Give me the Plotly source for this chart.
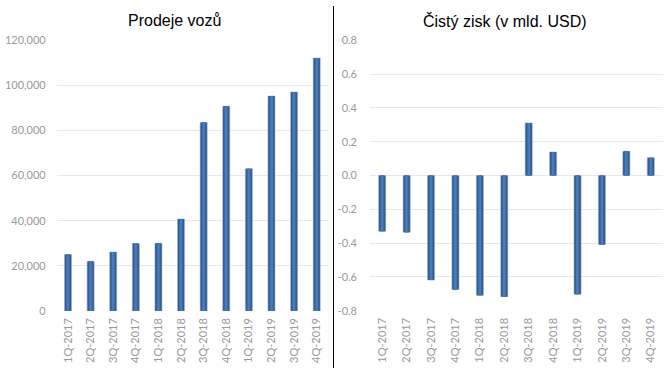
import plotly.graph_objects as go

quarters = ["1Q-2017", "2Q-2017", "3Q-2017", "4Q-2017", "1Q-2018", "2Q-2018",
            "3Q-2018", "4Q-2018", "1Q-2019", "2Q-2019", "3Q-2019", "4Q-2019"]
deliveries = [25000, 22000, 26100, 29900, 30000, 40700, 83500, 90700, 63000, 95200, 97000, 112000]
net_income = [-0.330, -0.336, -0.619, -0.675, -0.709, -0.717, 0.311, 0.139, -0.702, -0.408, 0.143, 0.105]

left_ticks = [0, 20000, 40000, 60000, 80000, 100000, 120000]
left_ticktext = ["0", "20,000", "40,000", "60,000", "80,000", "100,000", "120,000"]
right_ticks = [-0.8, -0.6, -0.4, -0.2, 0.0, 0.2, 0.4, 0.6, 0.8]
right_ticktext = ["-0.8", "-0.6", "-0.4", "-0.2", "0.0", "0.2", "0.4", "0.6", "0.8"]

title_left = "Prodeje vozů"
title_right = "Čistý zisk (v mld. USD)"

W, H = 670, 376
fig = go.Figure()

layers = [(1.0, "#2d5285"), (0.72, "#35619a"), (0.45, "#3f71ad"), (0.2, "#487bb8")]

for i, (frac, col) in enumerate(layers):
    line = dict(width=0.6, color="#9fb4cf") if i == 0 else dict(width=0)
    fig.add_trace(go.Bar(x=quarters, y=deliveries, width=0.31 * frac, marker=dict(color=col, line=line),
                         xaxis="x", yaxis="y", showlegend=False, hoverinfo="skip"))
for i, (frac, col) in enumerate(layers):
    line = dict(width=0.6, color="#9fb4cf") if i == 0 else dict(width=0)
    fig.add_trace(go.Bar(x=quarters, y=net_income, width=0.29 * frac, marker=dict(color=col, line=line),
                         xaxis="x2", yaxis="y2", showlegend=False, hoverinfo="skip"))

tick_font = dict(family="Lato, Open Sans, sans-serif", size=11, color="#9a9a9a")

def px_x(p):
    return p / W

def px_y(p):
    return 1 - p / H

fig.update_layout(
    width=W, height=H,
    margin=dict(l=0, r=0, t=0, b=0, autoexpand=False),
    paper_bgcolor="white", plot_bgcolor="white",
    barmode="overlay",
    xaxis=dict(domain=[px_x(56.7), px_x(328)], anchor="y", tickangle=-90, tickfont=tick_font,
               showgrid=False, showline=False, ticks="", ticklabelstandoff=4, fixedrange=True,
               automargin=False),
    yaxis=dict(domain=[px_y(311), px_y(40)], anchor="x", range=[0, 120000], tickvals=left_ticks,
               ticktext=left_ticktext, tickfont=tick_font, gridcolor="#e8e8e8", gridwidth=1,
               zeroline=False, showline=False, ticklabelstandoff=10, fixedrange=True,
               automargin=False),
    xaxis2=dict(domain=[px_x(370), px_x(663)], anchor="y2", tickangle=-90, tickfont=tick_font,
                showgrid=False, showline=False, ticks="", ticklabelstandoff=4, fixedrange=True,
                automargin=False),
    yaxis2=dict(domain=[px_y(310.7), px_y(40.3)], anchor="x2", range=[-0.8, 0.8], tickvals=right_ticks,
                ticktext=right_ticktext, tickfont=tick_font, gridcolor="#e8e8e8", gridwidth=1,
                zeroline=False, showline=False, ticklabelstandoff=12, fixedrange=True,
                automargin=False),
    annotations=[
        dict(text=title_left, x=px_x(175), y=px_y(20), xref="paper", yref="paper", showarrow=False,
             font=dict(family="Liberation Sans, Arial, sans-serif", size=16, color="#000000"),
             xanchor="center", yanchor="middle"),
        dict(text=title_right, x=px_x(505), y=px_y(21), xref="paper", yref="paper", showarrow=False,
             font=dict(family="Liberation Sans, Arial, sans-serif", size=16, color="#000000"),
             xanchor="center", yanchor="middle"),
    ],
    shapes=[dict(type="line", xref="paper", yref="paper", x0=px_x(333.5), x1=px_x(333.5),
                 y0=px_y(368), y1=px_y(6), line=dict(color="#000000", width=1))],
)

fig.write_html("out.html", config={"displayModeBar": False},
               post_script="document.body.style.margin='0';document.body.style.padding='0';")
